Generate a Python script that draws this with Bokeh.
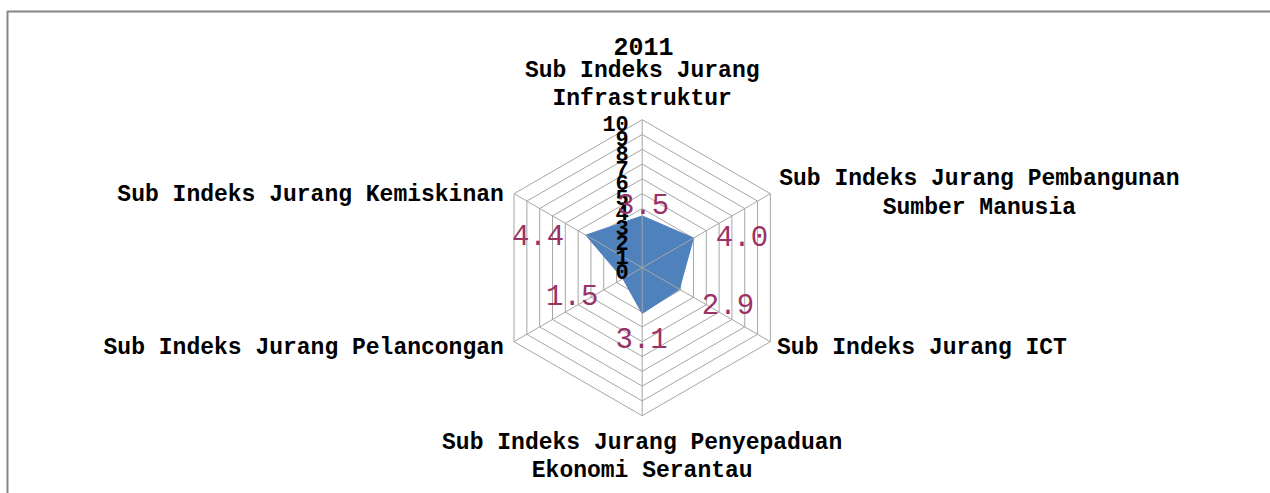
import math
from bokeh.plotting import figure
from bokeh.models import Range1d, ColumnDataSource, BoxAnnotation
from bokeh.core.properties import value
from bokeh.embed import file_html
from bokeh.resources import INLINE

# ---------------- data ----------------
title_text = "2011"
categories = [
    "Sub Indeks Jurang\nInfrastruktur",
    "Sub Indeks Jurang Pembangunan\nSumber Manusia",
    "Sub Indeks Jurang ICT",
    "Sub Indeks Jurang Penyepaduan\nEkonomi Serantau",
    "Sub Indeks Jurang Pelancongan",
    "Sub Indeks Jurang Kemiskinan",
]
values = [3.5, 4.0, 2.9, 3.1, 1.5, 4.4]
value_labels = ["3.5", "4.0", "2.9", "3.1", "1.5", "4.4"]
ticks = [0, 1, 2, 3, 4, 5, 6, 7, 8, 9, 10]
tick_labels = ["0", "1", "2", "3", "4", "5", "6", "7", "8", "9", "10"]
r_max = 10

# ---------------- styles / layout ----------------
W, H = 1270, 493
CX, CY = 641.7, 267.2      # pixel centre of the radar
S = 14.8                   # pixels per value unit
FONT = "Liberation Mono"
GRID = "#A6A6A6"
FILL = "#4F81BD"
LABEL_COLOR = "#993366"
SHIFT = -8                 # baseline correction

n = len(categories)
angles = [math.pi / 2 - k * 2 * math.pi / n for k in range(n)]

p = figure(width=W, height=H, output_backend="svg", toolbar_location=None,
           x_range=Range1d(-CX / S, (W - CX) / S),
           y_range=Range1d(-(H - CY) / S, CY / S),
           min_border=0, outline_line_color=None,
           background_fill_color="white", border_fill_color="white")
p.xaxis.visible = False
p.yaxis.visible = False
p.xgrid.visible = False
p.ygrid.visible = False

# chart border (extends past the window on the right and bottom)
p.add_layout(BoxAnnotation(left=(7 - CX) / S, top=(CY - 11) / S,
                           right=(W + 40 - CX) / S, bottom=(CY - H - 40) / S,
                           fill_alpha=0, line_color="#868686", line_alpha=1.0,
                           line_width=2))

# rings
ring_xs, ring_ys = [], []
for t in ticks[1:]:
    ring_xs.append([t * math.cos(a) for a in angles] + [t * math.cos(angles[0])])
    ring_ys.append([t * math.sin(a) for a in angles] + [t * math.sin(angles[0])])
p.multi_line(ring_xs, ring_ys, line_color=GRID, line_width=1)

# data polygon
px = [v * math.cos(a) for v, a in zip(values, angles)]
py = [v * math.sin(a) for v, a in zip(values, angles)]
p.patch(px, py, fill_color=FILL, line_color=FILL, line_width=1)

# spokes
p.segment(x0=[0] * n, y0=[0] * n,
          x1=[r_max * math.cos(a) for a in angles],
          y1=[r_max * math.sin(a) for a in angles],
          line_color=GRID, line_width=1)

# value-axis tick labels
p.text(x=[0] * len(ticks), y=ticks, text=tick_labels,
       text_font=value(FONT), text_font_style="bold", text_font_size="22px",
       text_color="black", text_align="right", text_baseline="alphabetic",
       x_offset=-13.4, y_offset=12 + SHIFT)

# data labels
lab_dx = [0.8, 48.5, 48.6, -0.7, -50.8, -47.8]
lab_dy = [d + SHIFT for d in [-3.7, 5.7, 23.0, 32.9, 24.0, 8.1]]
p.text(x=px, y=py, text=value_labels, text_font=value(FONT),
       text_font_size="29px", text_color=LABEL_COLOR,
       text_align="center", text_baseline="alphabetic",
       x_offset=lab_dx, y_offset=lab_dy)

# category labels (one row per text line)
cat_align = ["center", "center", "left", "center", "right", "right"]
cat_dx = [0, 209, 6.7, 0, -10.2, -10.2]
cat_dy = [[-40.9, -13.2], [-6.5, 21.8], [13.8], [34.8, 63.1], [13.8], [9.1]]
rows = dict(x=[], y=[], text=[], align=[], dx=[], dy=[])
for k, cat in enumerate(categories):
    for j, line in enumerate(cat.split("\n")):
        rows["x"].append(r_max * math.cos(angles[k]))
        rows["y"].append(r_max * math.sin(angles[k]))
        rows["text"].append(line)
        rows["align"].append(cat_align[k])
        rows["dx"].append(cat_dx[k])
        rows["dy"].append(cat_dy[k][j] + SHIFT)
src = ColumnDataSource(rows)
p.text(x="x", y="y", text="text", source=src, text_font=value(FONT),
       text_font_style="bold", text_font_size="23px", text_color="black",
       text_align="align", text_baseline="alphabetic",
       x_offset="dx", y_offset="dy")

# title
p.text(x=[0], y=[r_max], text=[title_text], text_font=value(FONT),
       text_font_style="bold", text_font_size="25px", text_color="black",
       text_align="center", text_baseline="alphabetic",
       x_offset=1.3, y_offset=-64.9 + SHIFT)

open("out.html", "w").write(file_html(p, INLINE))
